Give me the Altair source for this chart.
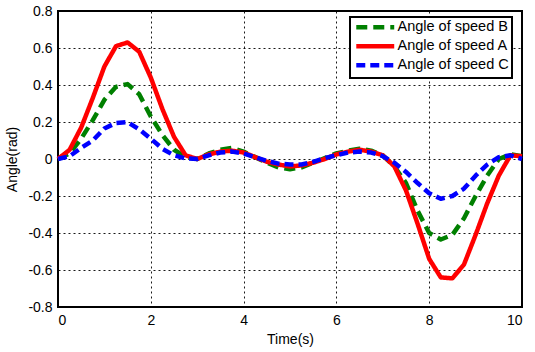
import altair as alt
import pandas as pd

time_s = [0, 0.25, 0.5, 0.75, 1.0, 1.25, 1.5, 1.75, 2.0, 2.25, 2.5, 2.75,
          3.0, 3.25, 3.5, 3.75, 4.0, 4.25, 4.5, 4.75, 5.0, 5.25, 5.5, 5.75,
          6.0, 6.25, 6.5, 6.75, 7.0, 7.25, 7.5, 7.75, 8.0, 8.25, 8.5, 8.75,
          9.0, 9.25, 9.5, 9.75, 10.0]

angle_b = [0, 0.03, 0.11, 0.21, 0.32, 0.39, 0.405, 0.35, 0.23, 0.13, 0.05, 0.01,
           0.0, 0.03, 0.05, 0.06, 0.04, 0.01, -0.02, -0.045, -0.055, -0.045, -0.02, 0.005,
           0.03, 0.045, 0.055, 0.045, 0.02, -0.04, -0.13, -0.28, -0.40, -0.435, -0.41, -0.32,
           -0.20, -0.09, 0.0, 0.025, 0.015]

angle_a = [0, 0.05, 0.17, 0.33, 0.50, 0.61, 0.63, 0.58, 0.44, 0.27, 0.12, 0.02,
           0.0, 0.025, 0.04, 0.045, 0.035, 0.01, -0.015, -0.03, -0.04, -0.035, -0.02, 0.0,
           0.025, 0.04, 0.05, 0.04, 0.02, -0.04, -0.17, -0.35, -0.54, -0.64, -0.645, -0.57,
           -0.41, -0.24, -0.09, 0.02, 0.015]

angle_c = [0, 0.015, 0.06, 0.10, 0.165, 0.195, 0.20, 0.16, 0.11, 0.055, 0.02, 0.003,
           0.0, 0.02, 0.035, 0.04, 0.03, 0.01, -0.01, -0.025, -0.03, -0.03, -0.015, 0.005,
           0.02, 0.035, 0.04, 0.035, 0.015, -0.02, -0.07, -0.13, -0.185, -0.215, -0.20, -0.16,
           -0.09, -0.03, 0.01, 0.02, 0.0]

series_names = ["Angle of speed B", "Angle of speed A", "Angle of speed C"]
series_colors = ["#008000", "#ff0000", "#0000ff"]
series_dashes = [[11, 6], [1, 0], [9, 5]]

y_ticks = [-0.8, -0.6, -0.4, -0.2, 0, 0.2, 0.4, 0.6, 0.8]
x_ticks = [0, 2, 4, 6, 8, 10]

rows = []
for name, vals in zip(series_names, [angle_b, angle_a, angle_c]):
    for i, (t, v) in enumerate(zip(time_s, vals)):
        rows.append({"t": t, "v": v, "series": name, "i": i})
df = pd.DataFrame(rows)

chart = alt.Chart(df).mark_line(strokeWidth=4.5, strokeJoin="round").encode(
    x=alt.X("t:Q", title="Time(s)",
            scale=alt.Scale(domain=[0, 10], nice=False),
            axis=alt.Axis(values=x_ticks, labelExpr="'' + datum.value")),
    y=alt.Y("v:Q", title="Angle(rad)",
            scale=alt.Scale(domain=[-0.8, 0.8], nice=False),
            axis=alt.Axis(values=y_ticks, labelExpr="'' + datum.value")),
    color=alt.Color("series:N", title=None,
                    scale=alt.Scale(domain=series_names, range=series_colors),
                    legend=alt.Legend(orient="none", legendX=292, legendY=6,
                                      symbolType="M-4,0H4", symbolSize=90,
                                      symbolStrokeWidth=4.5, symbolFillColor="transparent",
                                      symbolOffset=15,
                                      labelFontSize=14.5,
                                      labelFont="Liberation Sans", labelColor="black",
                                      labelOffset=15, padding=3, rowPadding=0,
                                      strokeColor="black", fillColor="white",
                                      labelLimit=300)),
    strokeDash=alt.StrokeDash("series:N", title=None,
                              scale=alt.Scale(domain=series_names, range=series_dashes)),
    order=alt.Order("i:Q"),
).properties(
    width=464, height=296,
    background="white",
    autosize=alt.AutoSizeParams(type="none"),
    padding={"left": 58, "top": 11, "right": 13, "bottom": 45},
).configure_view(
    stroke="black", strokeWidth=2
).configure_legend(
    strokeWidth=2
).configure_axis(
    grid=True, gridColor="black", gridDash=[2, 3], gridWidth=1, gridOpacity=0.9,
    domain=False, ticks=False, labelPadding=6,
    labelFont="Liberation Sans", labelFontSize=14, labelColor="black",
    titleFont="Liberation Sans", titleFontSize=14, titleFontWeight="normal", titleColor="black",
).configure_axisX(
    titlePadding=5
).configure_axisY(
    titlePadding=8
)

chart.save("out.html", embed_options={"renderer": "svg", "actions": False})
